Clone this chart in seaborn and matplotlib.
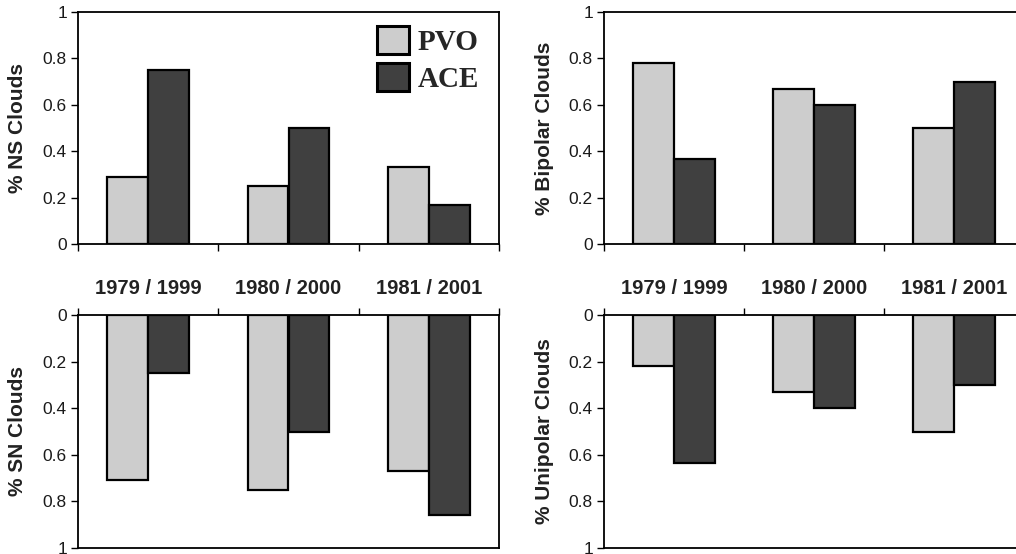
import matplotlib
matplotlib.use("Agg")
import matplotlib.pyplot as plt
from matplotlib.patches import Patch
from matplotlib.ticker import FixedLocator
import pandas as pd
import seaborn as sns

# Observation periods (PVO year / ACE year) and the two missions
periods = ["1979 / 1999", "1980 / 2000", "1981 / 2001"]
missions = ["PVO", "ACE"]

# Fraction of magnetic clouds of each type
ns_pvo = [0.29, 0.25, 0.33]
ns_ace = [0.75, 0.50, 0.17]
sn_pvo = [0.71, 0.75, 0.67]
sn_ace = [0.25, 0.50, 0.86]
bipolar_pvo = [0.78, 0.67, 0.50]
bipolar_ace = [0.365, 0.60, 0.70]
unipolar_pvo = [0.22, 0.33, 0.50]
unipolar_ace = [0.635, 0.40, 0.30]

y_ticks = [0, 0.2, 0.4, 0.6, 0.8, 1]
y_tick_labels = ["0", "0.2", "0.4", "0.6", "0.8", "1"]

colors = {"PVO": "#cdcdcd", "ACE": "#404040"}

sns.set_theme(style="white")
plt.rcParams["font.family"] = ["Liberation Sans", "DejaVu Sans"]

W, H = 1016, 554
fig = plt.figure(figsize=(W / 100, H / 100), dpi=100)


def px_axes(x0, y0, x1, y1):
    """Add axes given pixel edges measured from the top-left corner."""
    return fig.add_axes([x0 / W, 1 - y1 / H, (x1 - x0) / W, (y1 - y0) / H])


def frame(pvo, ace):
    return pd.DataFrame({
        "period": periods * 2,
        "mission": ["PVO"] * len(periods) + ["ACE"] * len(periods),
        "value": list(pvo) + list(ace),
    })


def draw(ax, pvo, ace, ylabel, hanging):
    sns.barplot(data=frame(pvo, ace), x="period", y="value", hue="mission",
                order=periods, hue_order=missions, palette=colors,
                saturation=1, width=0.58, edgecolor="black", linewidth=1.6,
                errorbar=None, legend=False, ax=ax)
    ax.set_xlim(-0.5, len(periods) - 0.5)
    ax.set_ylim((1, 0) if hanging else (0, 1))
    ax.set_yticks(y_ticks)
    ax.set_yticklabels(y_tick_labels)
    ax.set_xlabel("")
    ax.set_ylabel(ylabel, fontsize=15, fontweight="bold", color="#222222")
    ax.yaxis.set_label_coords(-0.12, 0.5)

    # category boundaries carry the tick marks
    ax.xaxis.set_minor_locator(FixedLocator([i - 0.5 for i in range(len(periods) + 1)]))
    ax.tick_params(axis="y", which="major", direction="out", length=5, width=1,
                   color="black", labelsize=12.5, labelcolor="#1a1a1a", pad=3, left=True)
    if hanging:
        ax.xaxis.tick_top()
        ax.tick_params(axis="x", which="major", length=0, top=False, bottom=False,
                       labeltop=True, labelbottom=False, pad=12,
                       labelsize=14.5, labelcolor="#222222")
        for lab in ax.get_xticklabels():
            lab.set_fontweight("bold")
        ax.tick_params(axis="x", which="minor", direction="out", length=5,
                       width=1, color="black", top=True, bottom=False)
    else:
        ax.tick_params(axis="x", which="major", length=0, labelbottom=False,
                       labeltop=False)
        ax.tick_params(axis="x", which="minor", direction="out", length=5,
                       width=1, color="black", bottom=True, top=False)
    for sp in ax.spines.values():
        sp.set_visible(True)
        sp.set_color("black")
        sp.set_linewidth(1.3)


ax_ns = px_axes(78, 12, 499, 244)
ax_sn = px_axes(78, 315, 499, 548)
ax_bi = px_axes(604, 12, 1024, 244)
ax_uni = px_axes(604, 315, 1024, 548)

draw(ax_ns, ns_pvo, ns_ace, "% NS Clouds", hanging=False)
draw(ax_sn, sn_pvo, sn_ace, "% SN Clouds", hanging=True)
draw(ax_bi, bipolar_pvo, bipolar_ace, "% Bipolar Clouds", hanging=False)
draw(ax_uni, unipolar_pvo, unipolar_ace, "% Unipolar Clouds", hanging=True)

handles = [Patch(facecolor=colors[m], edgecolor="black", linewidth=2.2, label=m)
           for m in missions]
ax_ns.legend(handles=handles, loc="upper right", bbox_to_anchor=(0.952, 0.94),
             frameon=False, borderpad=0, borderaxespad=0,
             handlelength=1.1, handleheight=1.1, handletextpad=0.28,
             labelspacing=0.26,
             prop={"family": ["Liberation Serif", "DejaVu Serif"],
                   "weight": "bold", "size": 21})

fig.savefig("out.png", dpi=100, facecolor="white")
